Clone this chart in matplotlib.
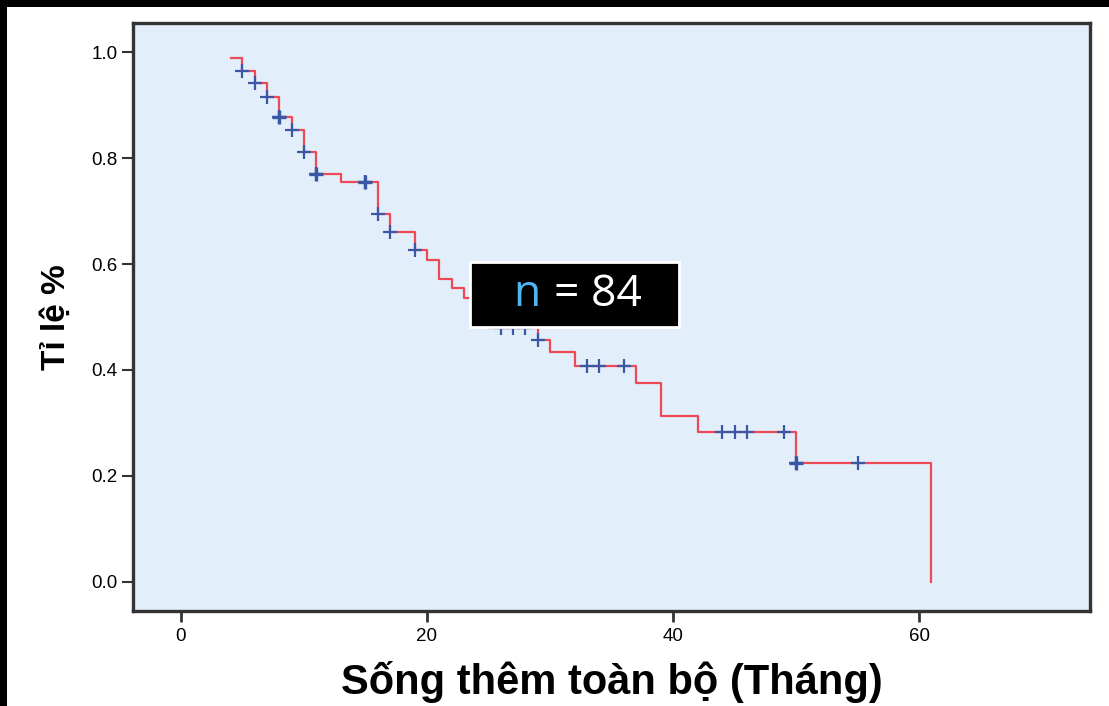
import numpy as np
import matplotlib.pyplot as plt
from matplotlib.patches import Rectangle

# Kaplan-Meier curve
start_time = 4.1
start_surv = 0.988
drop_times = [5, 6, 7, 8, 9, 10, 11, 13, 16, 17, 19, 20, 21, 22, 23, 24, 25,
              29, 30, 32, 37, 39, 42, 50, 61]
surv_after = [0.965, 0.941, 0.916, 0.878, 0.853, 0.812, 0.770, 0.755, 0.694,
              0.661, 0.626, 0.608, 0.572, 0.554, 0.535, 0.510, 0.479, 0.457,
              0.433, 0.408, 0.376, 0.313, 0.282, 0.225, 0.0]
censor_times = [5, 6, 7, 8, 9, 10, 11, 15, 16, 17, 19, 26, 27, 28, 29,
                33, 34, 36, 44, 45, 46, 49, 50, 55]
bold_censors = [8, 11, 15, 50]

xticks = [0, 20, 40, 60]
yticks = [0.0, 0.2, 0.4, 0.6, 0.8, 1.0]

plt.rcParams['font.family'] = ['Liberation Sans', 'DejaVu Sans']

fig = plt.figure(figsize=(11.09, 7.06), dpi=100)
ax = fig.add_axes([133 / 1109, 1 - 611 / 706, (1090 - 133) / 1109, (611 - 23) / 706])
ax.set_facecolor('#E2EEFA')

# step curve
t = np.array([start_time] + drop_times)
s = np.array([start_surv] + surv_after)
ax.step(t, s, where='post', color='#EE4A55', lw=1.6, zorder=3)

# censor marks sit on the curve level
def level_at(x):
    idx = np.searchsorted(t, x, side='right') - 1
    return s[idx]

cs = [level_at(c) for c in censor_times]
ax.plot(censor_times, cs, linestyle='none', marker='+', ms=10, mew=1.6,
        color='#3A57A6', zorder=4)
bs = [level_at(c) for c in bold_censors]
ax.plot(bold_censors, bs, linestyle='none', marker='+', ms=10, mew=2.4,
        color='#3A57A6', zorder=4)

ax.set_xlim(-3.9, 73.9)
ax.set_ylim(-0.055, 1.055)
ax.set_xticks(xticks)
ax.set_xticklabels([str(v) for v in xticks])
ax.set_yticks(yticks)
ax.set_yticklabels([f'{v:.1f}' for v in yticks])
ax.tick_params(axis='x', length=8, width=2, color='#333333', labelsize=13.5, pad=4)
ax.tick_params(axis='y', length=8, width=1.5, color='#333333', labelsize=13.5, pad=3)
for sp in ax.spines.values():
    sp.set_color('#333333')
    sp.set_linewidth(2.4)

ax.set_xlabel('Sống thêm toàn bộ (Tháng)', fontsize=30, fontweight='bold', labelpad=12)
ax.set_ylabel('Tỉ lệ %', fontsize=24, fontweight='bold', labelpad=14)

# "n = 84" label box
ax.add_patch(Rectangle((23.5, 0.482), 17.0, 0.121, facecolor='black',
                       edgecolor='white', lw=2, zorder=5))
ax.text(27.0, 0.542, 'n', color='#4FB5F0', fontsize=32, va='center', ha='left',
        family='Open Sans', zorder=6)
ax.text(30.3, 0.542, '= 84', color='white', fontsize=32, va='center', ha='left',
        family='Open Sans', zorder=6)

# black bands along the top and left edges
fig.patches.append(Rectangle((0, 1 - 7 / 706), 1, 7 / 706, transform=fig.transFigure,
                             facecolor='black', edgecolor='none'))
fig.patches.append(Rectangle((0, 0), 7 / 1109, 1, transform=fig.transFigure,
                             facecolor='black', edgecolor='none'))

fig.savefig('out.png', dpi=100)
